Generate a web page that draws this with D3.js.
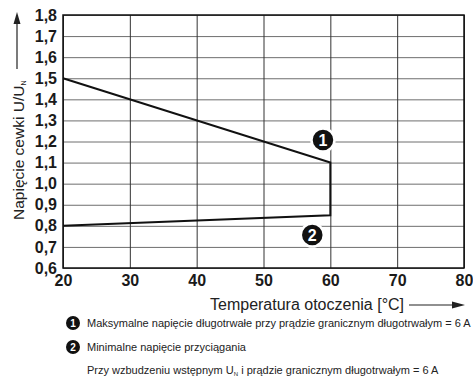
<!DOCTYPE html>
<html>
<head>
<meta charset="utf-8">
<script src="https://cdn.jsdelivr.net/npm/d3@7"></script>
<style>
  body { margin: 0; background: #fff; }
  svg { font-family: "Liberation Sans", Arial, sans-serif; display: block; }
</style>
</head>
<body>
<div id="chart"></div>
<script>
// temperature (°C) and coil voltage ratio U/UN
const maxTemp = [20, 60];
const maxVolt = [1.5, 1.1];
const minTemp = [60, 20];
const minVolt = [0.85, 0.8];

const xTicks = [20, 30, 40, 50, 60, 70, 80];
const yTicks = [0.6, 0.7, 0.8, 0.9, 1.0, 1.1, 1.2, 1.3, 1.4, 1.5, 1.6, 1.7, 1.8];

// numbered markers, placed in data units
const markerLabels = ["1", "2"];
const markerTemp = [58.9, 57.3];
const markerVolt = [1.207, 0.756];

const legendLines = [
  "Maksymalne napięcie długotrwałe przy prądzie granicznym długotrwałym = 6 A",
  "Minimalne napięcie przyciągania"
];

const drawChart = () => {
  const W = 473, H = 376;
  const margin = { top: 15, right: 9, bottom: 108, left: 63 };

  const svg = d3.select("#chart")
    .append("svg")
    .attr("width", W)
    .attr("height", H);

  const x = d3.scaleLinear().domain([20, 80]).range([margin.left, W - margin.right]);
  const y = d3.scaleLinear().domain([0.6, 1.8]).range([H - margin.bottom, margin.top]);

  const comma = d => d3.format(".1f")(d).replace(".", ",");

  // horizontal gridlines
  svg.append("g")
    .attr("transform", `translate(${x(20)},0)`)
    .call(d3.axisLeft(y).tickValues(yTicks).tickSize(-(x(80) - x(20))).tickFormat(""))
    .call(g => g.select(".domain").remove())
    .call(g => g.selectAll("line").attr("stroke", "#6e6e6e").attr("stroke-width", 1));

  // vertical gridlines
  svg.append("g")
    .attr("transform", `translate(0,${y(0.6)})`)
    .call(d3.axisBottom(x).tickValues(xTicks).tickSize(-(y(0.6) - y(1.8))).tickFormat(""))
    .call(g => g.select(".domain").remove())
    .call(g => g.selectAll("line").attr("stroke", "#333").attr("stroke-width", 1));

  // frame
  svg.append("rect")
    .attr("x", x(20)).attr("y", y(1.8))
    .attr("width", x(80) - x(20)).attr("height", y(0.6) - y(1.8))
    .attr("fill", "none").attr("stroke", "#111").attr("stroke-width", 1.5);

  // tick labels
  const yAxis = svg.append("g")
    .attr("transform", `translate(${x(20)},0)`)
    .call(d3.axisLeft(y).tickValues(yTicks).tickSize(0).tickPadding(6).tickFormat(comma));
  yAxis.select(".domain").remove();
  yAxis.selectAll("text")
    .attr("font-family", "Liberation Sans, Arial, sans-serif")
    .attr("font-size", 16).attr("font-weight", "bold").attr("fill", "#1a1a1a");

  const xAxis = svg.append("g")
    .attr("transform", `translate(0,${y(0.6)})`)
    .call(d3.axisBottom(x).tickValues(xTicks).tickSize(0).tickPadding(7).tickFormat(d3.format("d")));
  xAxis.select(".domain").remove();
  xAxis.selectAll("text")
    .attr("font-family", "Liberation Sans, Arial, sans-serif")
    .attr("font-size", 16).attr("font-weight", "bold").attr("fill", "#1a1a1a");

  // curve: max voltage, vertical drop, min voltage
  const pts = maxTemp.map((t, i) => [t, maxVolt[i]])
    .concat(minTemp.map((t, i) => [t, minVolt[i]]));
  const line = d3.line().x(d => x(d[0])).y(d => y(d[1]));
  svg.append("path")
    .datum(pts)
    .attr("fill", "none")
    .attr("stroke", "#111")
    .attr("stroke-width", 2)
    .attr("stroke-linejoin", "miter")
    .attr("d", line);

  // numbered markers
  const markers = svg.selectAll(".marker")
    .data(markerLabels)
    .join("g")
    .attr("class", "marker")
    .attr("transform", (d, i) => `translate(${x(markerTemp[i])},${y(markerVolt[i])})`);
  markers.append("circle").attr("r", 11.5).attr("fill", "#111")
    .attr("stroke", "#fff").attr("stroke-width", 2.5);
  markers.append("text")
    .attr("text-anchor", "middle").attr("dy", "0.36em")
    .attr("font-size", 16).attr("font-weight", "bold").attr("fill", "#fff")
    .text(d => d);

  // y axis title with arrow
  const yTitle = svg.append("text")
    .attr("transform", "translate(24,220) rotate(-90)")
    .attr("font-size", 15.5).attr("fill", "#222");
  yTitle.append("tspan").text("Napięcie cewki U/U");
  yTitle.append("tspan").attr("font-size", 7).attr("dy", 2).text("N");

  svg.append("line")
    .attr("x1", 17).attr("x2", 17).attr("y1", 69).attr("y2", 22)
    .attr("stroke", "#222").attr("stroke-width", 1.2);
  svg.append("path")
    .attr("d", "M17,12 L13.5,24 L20.5,24 Z")
    .attr("fill", "#222");

  // x axis title with arrow
  svg.append("text")
    .attr("x", 210).attr("y", 310)
    .attr("font-size", 16).attr("fill", "#222")
    .text("Temperatura otoczenia [°C]");
  svg.append("line")
    .attr("x1", 409).attr("x2", 453).attr("y1", 305).attr("y2", 305)
    .attr("stroke", "#222").attr("stroke-width", 1.2);
  svg.append("path")
    .attr("d", "M465,305 L452,301.5 L452,308.5 Z")
    .attr("fill", "#222");

  // legend
  const legend = svg.selectAll(".legend")
    .data(legendLines)
    .join("g")
    .attr("class", "legend")
    .attr("transform", (d, i) => `translate(73,${323 + i * 24})`);
  legend.append("circle").attr("r", 7).attr("fill", "#111");
  legend.append("text")
    .attr("text-anchor", "middle").attr("dy", "0.36em")
    .attr("font-size", 10).attr("font-weight", "bold").attr("fill", "#fff")
    .text((d, i) => markerLabels[i]);
  legend.append("text")
    .attr("x", 14).attr("dy", "0.36em")
    .attr("font-size", 11).attr("fill", "#222")
    .text(d => d);

  const note = svg.append("text")
    .attr("x", 87).attr("y", 374)
    .attr("font-size", 11).attr("fill", "#222");
  note.append("tspan").text("Przy wzbudzeniu wstępnym U");
  note.append("tspan").attr("font-size", 6).attr("dy", 1.5).text("N");
  note.append("tspan").attr("dy", -1.5).text(" i prądzie granicznym długotrwałym = 6 A");
};

drawChart();
</script>
</body>
</html>
